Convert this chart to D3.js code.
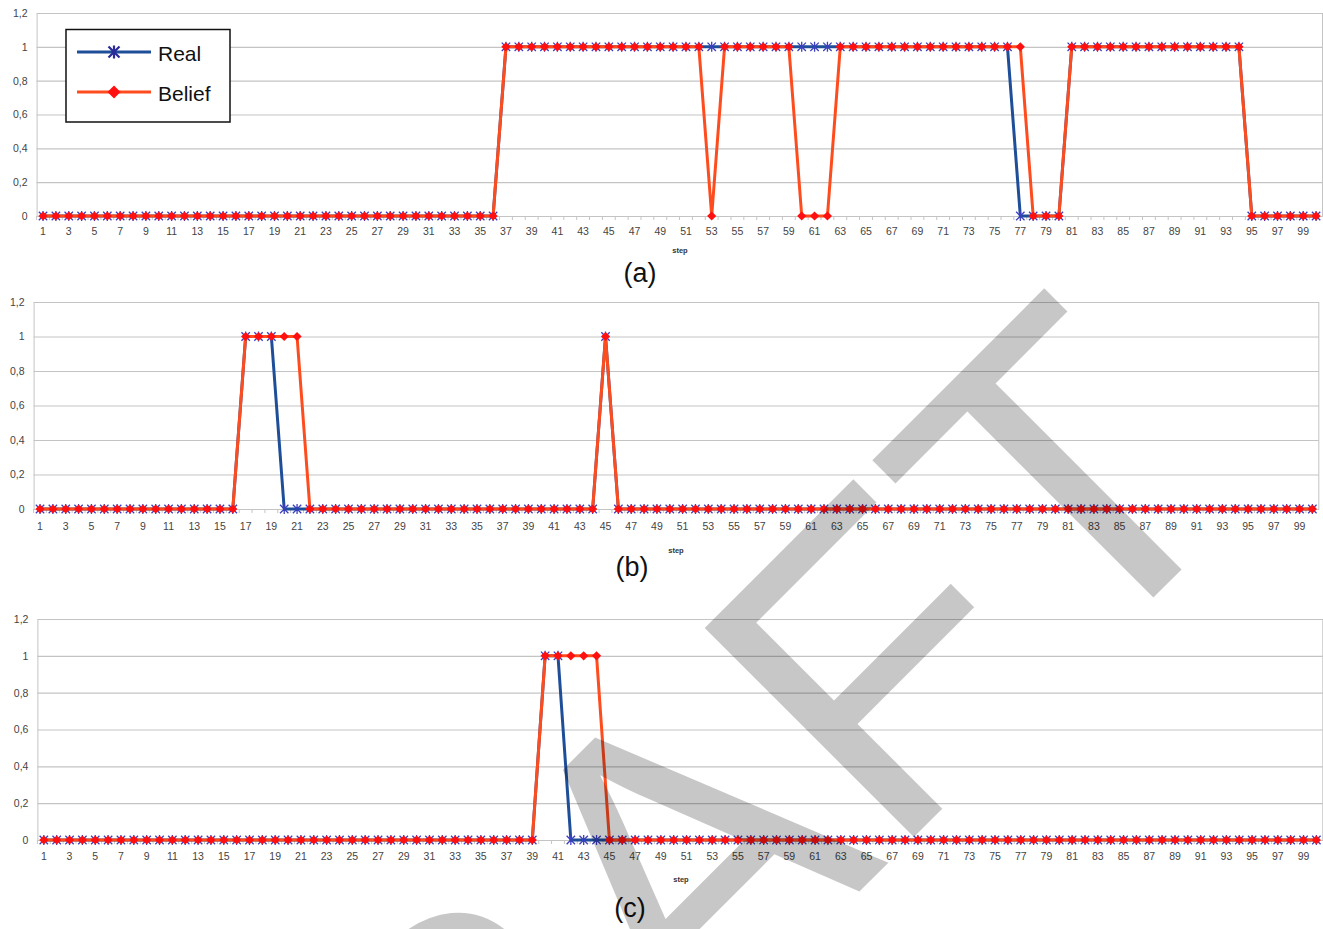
<!DOCTYPE html>
<html><head><meta charset="utf-8">
<script src="https://cdn.jsdelivr.net/npm/d3@7"></script>
<style>html,body{margin:0;padding:0;background:#fff;} svg{display:block;}</style>
</head><body>
<svg id="chart" width="1323" height="929"></svg>
<script>
// ---------- data ----------
const steps = d3.range(1, 101);
const xTickLabels = steps.filter(s => s % 2 === 1);
const yTicks = [0, 0.2, 0.4, 0.6, 0.8, 1, 1.2];
const yTickLabels = ["0", "0,2", "0,4", "0,6", "0,8", "1", "1,2"];
const seriesNames = ["Real", "Belief"];
const captions = ["(a)", "(b)", "(c)"];
const axisTitle = "step";
const watermark = "DRAFT";

const realA = [
  0,0,0,0,0,0,0,0,0,0,
  0,0,0,0,0,0,0,0,0,0,
  0,0,0,0,0,0,0,0,0,0,
  0,0,0,0,0,0,1,1,1,1,
  1,1,1,1,1,1,1,1,1,1,
  1,1,1,1,1,1,1,1,1,1,
  1,1,1,1,1,1,1,1,1,1,
  1,1,1,1,1,1,0,0,0,0,
  1,1,1,1,1,1,1,1,1,1,
  1,1,1,1,0,0,0,0,0,0];
const beliefA = [
  0,0,0,0,0,0,0,0,0,0,
  0,0,0,0,0,0,0,0,0,0,
  0,0,0,0,0,0,0,0,0,0,
  0,0,0,0,0,0,1,1,1,1,
  1,1,1,1,1,1,1,1,1,1,
  1,1,0,1,1,1,1,1,1,0,
  0,0,1,1,1,1,1,1,1,1,
  1,1,1,1,1,1,1,0,0,0,
  1,1,1,1,1,1,1,1,1,1,
  1,1,1,1,0,0,0,0,0,0];
const realB = [
  0,0,0,0,0,0,0,0,0,0,
  0,0,0,0,0,0,1,1,1,0,
  0,0,0,0,0,0,0,0,0,0,
  0,0,0,0,0,0,0,0,0,0,
  0,0,0,0,1,0,0,0,0,0,
  0,0,0,0,0,0,0,0,0,0,
  0,0,0,0,0,0,0,0,0,0,
  0,0,0,0,0,0,0,0,0,0,
  0,0,0,0,0,0,0,0,0,0,
  0,0,0,0,0,0,0,0,0,0];
const beliefB = [
  0,0,0,0,0,0,0,0,0,0,
  0,0,0,0,0,0,1,1,1,1,
  1,0,0,0,0,0,0,0,0,0,
  0,0,0,0,0,0,0,0,0,0,
  0,0,0,0,1,0,0,0,0,0,
  0,0,0,0,0,0,0,0,0,0,
  0,0,0,0,0,0,0,0,0,0,
  0,0,0,0,0,0,0,0,0,0,
  0,0,0,0,0,0,0,0,0,0,
  0,0,0,0,0,0,0,0,0,0];
const realC = [
  0,0,0,0,0,0,0,0,0,0,
  0,0,0,0,0,0,0,0,0,0,
  0,0,0,0,0,0,0,0,0,0,
  0,0,0,0,0,0,0,0,0,1,
  1,0,0,0,0,0,0,0,0,0,
  0,0,0,0,0,0,0,0,0,0,
  0,0,0,0,0,0,0,0,0,0,
  0,0,0,0,0,0,0,0,0,0,
  0,0,0,0,0,0,0,0,0,0,
  0,0,0,0,0,0,0,0,0,0];
const beliefC = [
  0,0,0,0,0,0,0,0,0,0,
  0,0,0,0,0,0,0,0,0,0,
  0,0,0,0,0,0,0,0,0,0,
  0,0,0,0,0,0,0,0,0,1,
  1,1,1,1,0,0,0,0,0,0,
  0,0,0,0,0,0,0,0,0,0,
  0,0,0,0,0,0,0,0,0,0,
  0,0,0,0,0,0,0,0,0,0,
  0,0,0,0,0,0,0,0,0,0,
  0,0,0,0,0,0,0,0,0,0];

// ---------- styling / layout ----------
const FONT = "'Liberation Sans', Arial, sans-serif";
const REAL_LINE = "#1f4e99", REAL_MARK = "#3b3fbf";
const BEL_LINE = "#ff4c1f", BEL_MARK = "#ff1010";
const GRID = "#c4c4c4";

const panels = [
  {real: realA, belief: beliefA, x0: 36.6, x1: 1322.5, yTop: 13, yBot: 216, pad: 12, cap: captions[0], capX: 640, capY: 282, stX: 680, stY: 253, legend: true},
  {real: realB, belief: beliefB, x0: 33.6, x1: 1318.8, yTop: 302, yBot: 509, pad: 14, cap: captions[1], capX: 632, capY: 576, stX: 676, stY: 553, legend: false},
  {real: realC, belief: beliefC, x0: 37.4, x1: 1322.8, yTop: 619, yBot: 840, pad: 13, cap: captions[2], capX: 630, capY: 917, stX: 681, stY: 882, legend: false}
];

const svg = d3.select("#chart");
svg.append("rect").attr("width", 1323).attr("height", 929).attr("fill", "#fff");

const starPath = r => `M${-r},${-r}L${r},${r}M${-r},${r}L${r},${-r}M0,${-r*1.2}L0,${r*1.2}`;
const diamondPath = r => `M0,${-r}L${r},0L0,${r}L${-r},0Z`;

panels.forEach(p => {
  const g = svg.append("g");
  const x = d3.scaleBand().domain(steps).range([p.x0, p.x1]);
  const bw = x.bandwidth();
  const cx = s => x(s) + bw / 2;
  const y = d3.scaleLinear().domain([0, 1.2]).range([p.yBot, p.yTop]);

  // y axis with gridlines
  const ya = g.append("g").attr("transform", `translate(${p.x0},0)`)
    .call(d3.axisLeft(y).tickValues(yTicks)
      .tickFormat((d, i) => yTickLabels[i])
      .tickSize(-(p.x1 - p.x0)).tickPadding(9));
  ya.select(".domain").attr("stroke", GRID).attr("stroke-width", 1);
  ya.selectAll(".tick line").attr("stroke", GRID).attr("stroke-width", 1.2);
  ya.selectAll(".tick text").attr("font-family", FONT).attr("font-size", 10.5).attr("fill", "#444");

  // right border
  g.append("line").attr("x1", p.x1).attr("x2", p.x1).attr("y1", p.yTop).attr("y2", p.yBot)
    .attr("stroke", GRID).attr("stroke-width", 1);

  // minor ticks between categories
  g.append("g").selectAll("line").data(steps).join("line")
    .attr("x1", d => x(d)).attr("x2", d => x(d))
    .attr("y1", p.yBot).attr("y2", p.yBot + 4)
    .attr("stroke", GRID).attr("stroke-width", 1);

  // x axis labels
  const xa = g.append("g").attr("transform", `translate(0,${p.yBot})`)
    .call(d3.axisBottom(x).tickValues(xTickLabels).tickSize(0).tickSizeOuter(0).tickPadding(p.pad));
  xa.select(".domain").attr("stroke", GRID);
  xa.selectAll(".tick text").attr("font-family", FONT).attr("font-size", 10.5).attr("fill", "#444");

  // axis title
  g.append("text").attr("x", p.stX).attr("y", p.stY).attr("text-anchor", "middle")
    .attr("font-family", FONT).attr("font-size", 7.5).attr("font-weight", "bold").attr("fill", "#333")
    .text(axisTitle);

  // caption
  g.append("text").attr("x", p.capX).attr("y", p.capY).attr("text-anchor", "middle")
    .attr("font-family", FONT).attr("font-size", 27).attr("fill", "#111")
    .text(p.cap);

  const line = d3.line().x((d, i) => cx(steps[i])).y(d => y(d));

  g.append("path").datum(p.real).attr("d", line).attr("fill", "none")
    .attr("stroke", REAL_LINE).attr("stroke-width", 3).attr("stroke-linejoin", "round");
  g.append("g").selectAll("path").data(p.real).join("path")
    .attr("transform", (d, i) => `translate(${cx(steps[i])},${y(d)})`)
    .attr("d", starPath(4.2)).attr("stroke", REAL_MARK).attr("stroke-width", 1.3).attr("fill", "none");

  g.append("path").datum(p.belief).attr("d", line).attr("fill", "none")
    .attr("stroke", BEL_LINE).attr("stroke-width", 3).attr("stroke-linejoin", "round");
  g.append("g").selectAll("path").data(p.belief).join("path")
    .attr("transform", (d, i) => `translate(${cx(steps[i])},${y(d)})`)
    .attr("d", diamondPath(4.6)).attr("fill", BEL_MARK);

  if (p.legend) {
    const lg = svg.append("g");
    lg.append("rect").attr("x", 66).attr("y", 29.5).attr("width", 164).attr("height", 92.5)
      .attr("fill", "#fff").attr("stroke", "#111").attr("stroke-width", 1.5);
    const rows = [
      {name: seriesNames[0], y: 52, lc: REAL_LINE, mk: "star"},
      {name: seriesNames[1], y: 92, lc: BEL_LINE, mk: "diamond"}
    ];
    rows.forEach(r => {
      lg.append("line").attr("x1", 77).attr("x2", 151).attr("y1", r.y).attr("y2", r.y)
        .attr("stroke", r.lc).attr("stroke-width", 3);
      if (r.mk === "star") {
        lg.append("path").attr("transform", `translate(114,${r.y})`).attr("d", starPath(5.5))
          .attr("stroke", "#2a2a9a").attr("stroke-width", 2.2).attr("fill", "none");
      } else {
        lg.append("path").attr("transform", `translate(114,${r.y})`).attr("d", diamondPath(6.5))
          .attr("fill", BEL_MARK);
      }
      lg.append("text").attr("x", 158).attr("y", r.y + 9).attr("font-family", FONT)
        .attr("font-size", 21).attr("fill", "#111").text(r.name);
    });
  }
});

// watermark
svg.append("text")
  .attr("transform", "translate(247,1504) rotate(-45)")
  .attr("font-family", FONT).attr("font-size", 430)
  .attr("fill", "#000").attr("fill-opacity", 0.22)
  .text(watermark);
</script>
</body></html>
